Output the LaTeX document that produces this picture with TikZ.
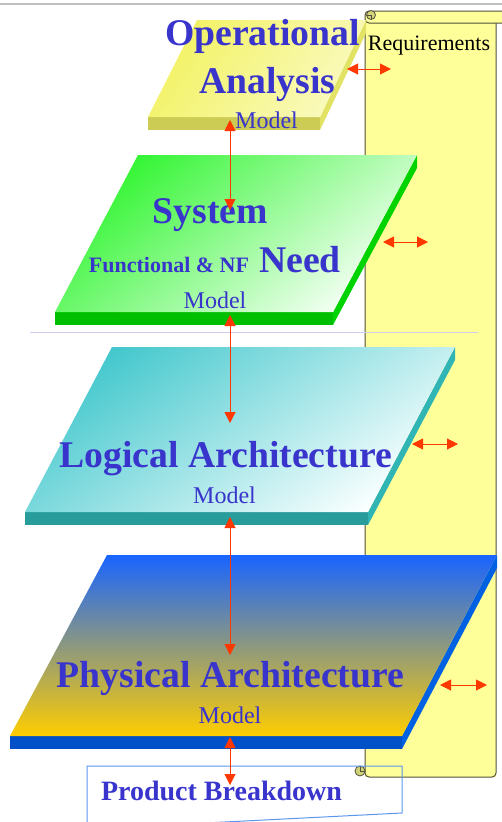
\documentclass[tikz,border=0pt]{standalone}
\usepackage{fontspec}
\setmainfont{Liberation Serif}
\usetikzlibrary{arrows.meta}
\definecolor{txtblue}{RGB}{56,52,204}
\definecolor{arrred}{RGB}{255,56,0}
\definecolor{scrollyel}{RGB}{255,255,153}
\definecolor{scrollline}{RGB}{80,80,60}
\definecolor{curlfill}{RGB}{210,210,120}
\definecolor{boxblue}{RGB}{90,150,235}
\definecolor{topgray}{RGB}{190,190,190}
\definecolor{sepline}{RGB}{205,205,240}
\definecolor{opyel}{RGB}{242,242,100}
\definecolor{opyelb}{RGB}{250,250,190}
\definecolor{opfront}{RGB}{204,204,85}
\definecolor{opside}{RGB}{226,226,100}
\definecolor{sgreen}{RGB}{50,245,50}
\definecolor{sgreenw}{RGB}{245,255,245}
\definecolor{sfront}{RGB}{0,190,0}
\definecolor{sside}{RGB}{0,212,0}
\definecolor{lcyan}{RGB}{68,200,205}
\definecolor{lcyanw}{RGB}{250,255,255}
\definecolor{lfront}{RGB}{40,155,155}
\definecolor{lside}{RGB}{48,180,180}
\definecolor{pblue}{RGB}{25,100,255}
\definecolor{pmid}{RGB}{198,165,170}
\definecolor{pgold}{RGB}{255,205,0}
\definecolor{pfront}{RGB}{0,80,200}
\definecolor{pside}{RGB}{0,98,226}
\tikzset{
  bigt/.style={text=txtblue, inner sep=0pt, anchor=base, font=\fontsize{37.7}{40}\selectfont\bfseries},
  midt/.style={text=txtblue, inner sep=0pt, anchor=base, font=\fontsize{22}{24}\selectfont\bfseries},
  modelt/.style={text=txtblue, inner sep=0pt, anchor=base, font=\fontsize{24}{26}\selectfont},
  prodt/.style={text=txtblue, inner sep=0pt, anchor=base, font=\fontsize{28}{30}\selectfont\bfseries},
  reqt/.style={text=black, inner sep=0pt, anchor=base, font=\fontsize{22}{24}\selectfont},
  rel/.style={draw=arrred, line width=1pt, {Triangle[length=11pt,width=11pt]}-{Triangle[length=11pt,width=11pt]}},
  scrollst/.style={fill=scrollyel, draw=scrollline, line width=1pt},
}
\begin{document}
\begin{tikzpicture}[x=1pt,y=-1pt]
\useasboundingbox (0,0) rectangle (502,822);
\clip (0,0) rectangle (502,822);
% top gray line
\draw[topgray, line width=2pt] (0,4) -- (502,4);
% requirements scroll
\fill[scrollyel] (365,16) rectangle (496,777);
\draw[scrollline, line width=1pt, rounded corners=4pt] (365,20) -- (365,777) -- (496,777) -- (496,22);
\filldraw[scrollst, rounded corners=4pt] (506,11) -- (365,11) -- (365,23) -- (506,23);
\filldraw[fill=curlfill, draw=scrollline, line width=0.8pt] (371,15) circle (4.5);
\draw[scrollline, line width=0.6pt] (367,15) -- (371,15) -- (371,19);
\filldraw[fill=curlfill, draw=scrollline, line width=0.8pt] (360,771) circle (5);
\draw[scrollline, line width=0.6pt] (360,766) -- (360,771) -- (365,771);
\node[reqt] (req) at (429,50) {Requirements};
% separator line
\draw[sepline, line width=1pt] (30,332) -- (478,332);
% Operational Analysis plate
\fill[opfront] (148,117) -- (320,117) -- (320,130) -- (148,130) -- cycle;
\fill[opside] (366,20) -- (320,117) -- (320,130) -- (366,33) -- cycle;
\shade[top color=opyel, middle color=white, bottom color=opyelb, shading angle=55] (197,20) -- (366,20) -- (320,117) -- (148,117) -- cycle;
% System plate
\fill[sfront] (55,312) -- (333,312) -- (333,325) -- (55,325) -- cycle;
\fill[sside] (417,155) -- (333,312) -- (333,325) -- (417,168) -- cycle;
\shade[top color=sgreen, bottom color=sgreenw, shading angle=40] (138,155) -- (417,155) -- (333,312) -- (55,312) -- cycle;
% Logical plate
\fill[lfront] (25,512) -- (368,512) -- (368,525) -- (25,525) -- cycle;
\fill[lside] (455,347) -- (368,512) -- (368,525) -- (455,360) -- cycle;
\shade[top color=lcyan, bottom color=lcyanw, shading angle=35] (112,347) -- (455,347) -- (368,512) -- (25,512) -- cycle;
% Physical plate
\fill[pfront] (10,736) -- (402,736) -- (402,749) -- (10,749) -- cycle;
\fill[pside] (497,555) -- (402,736) -- (402,749) -- (497,568) -- cycle;
\shade[top color=pblue, middle color=pmid, bottom color=pgold] (107,555) -- (497,555) -- (402,736) -- (10,736) -- cycle;
% Product breakdown box
\draw[boxblue, line width=1pt] (87,829) -- (87,766) -- (402,766) -- (402,813) -- cycle;
% texts
\node[bigt] (op1) at (262.5,45) {Operational};
\node[bigt] (op2) at (267.5,93) {Analysis};
\node[modelt] (opm) at (266.5,128) {Model};
\node[bigt] (sy1) at (210.5,223) {System};
\node[midt] (sy2) at (169,272) {Functional \& NF};
\node[bigt] (sy3) at (300,272) {Need};
\node[modelt] (sym) at (215,308) {Model};
\node[bigt] (lo1) at (225.5,467) {Logical Architecture};
\node[modelt] (lom) at (224.5,503) {Model};
\node[bigt] (ph1) at (230.5,687) {Physical Architecture};
\node[modelt] (phm) at (230,723) {Model};
\node[prodt] (pb) at (221.5,800) {Product Breakdown};
% arrow end points
\coordinate (v1a) at (230,120); \coordinate (v1b) at (230,210);
\coordinate (v2a) at (230,315); \coordinate (v2b) at (230,423);
\coordinate (v3a) at (230,517); \coordinate (v3b) at (230,655);
\coordinate (v4a) at (230,737); \coordinate (v4b) at (230,785);
\coordinate (h1a) at (347,69); \coordinate (h1b) at (391,69);
\coordinate (h2a) at (383,242); \coordinate (h2b) at (428,242);
\coordinate (h3a) at (412,444); \coordinate (h3b) at (458,444);
\coordinate (h4a) at (440,685); \coordinate (h4b) at (487,685);
\draw[rel] (v1a) -- (v1b);
\draw[rel] (v2a) -- (v2b);
\draw[rel] (v3a) -- (v3b);
\draw[rel] (v4a) -- (v4b);
\draw[rel] (h1a) -- (h1b);
\draw[rel] (h2a) -- (h2b);
\draw[rel] (h3a) -- (h3b);
\draw[rel] (h4a) -- (h4b);
\end{tikzpicture}
\end{document}
